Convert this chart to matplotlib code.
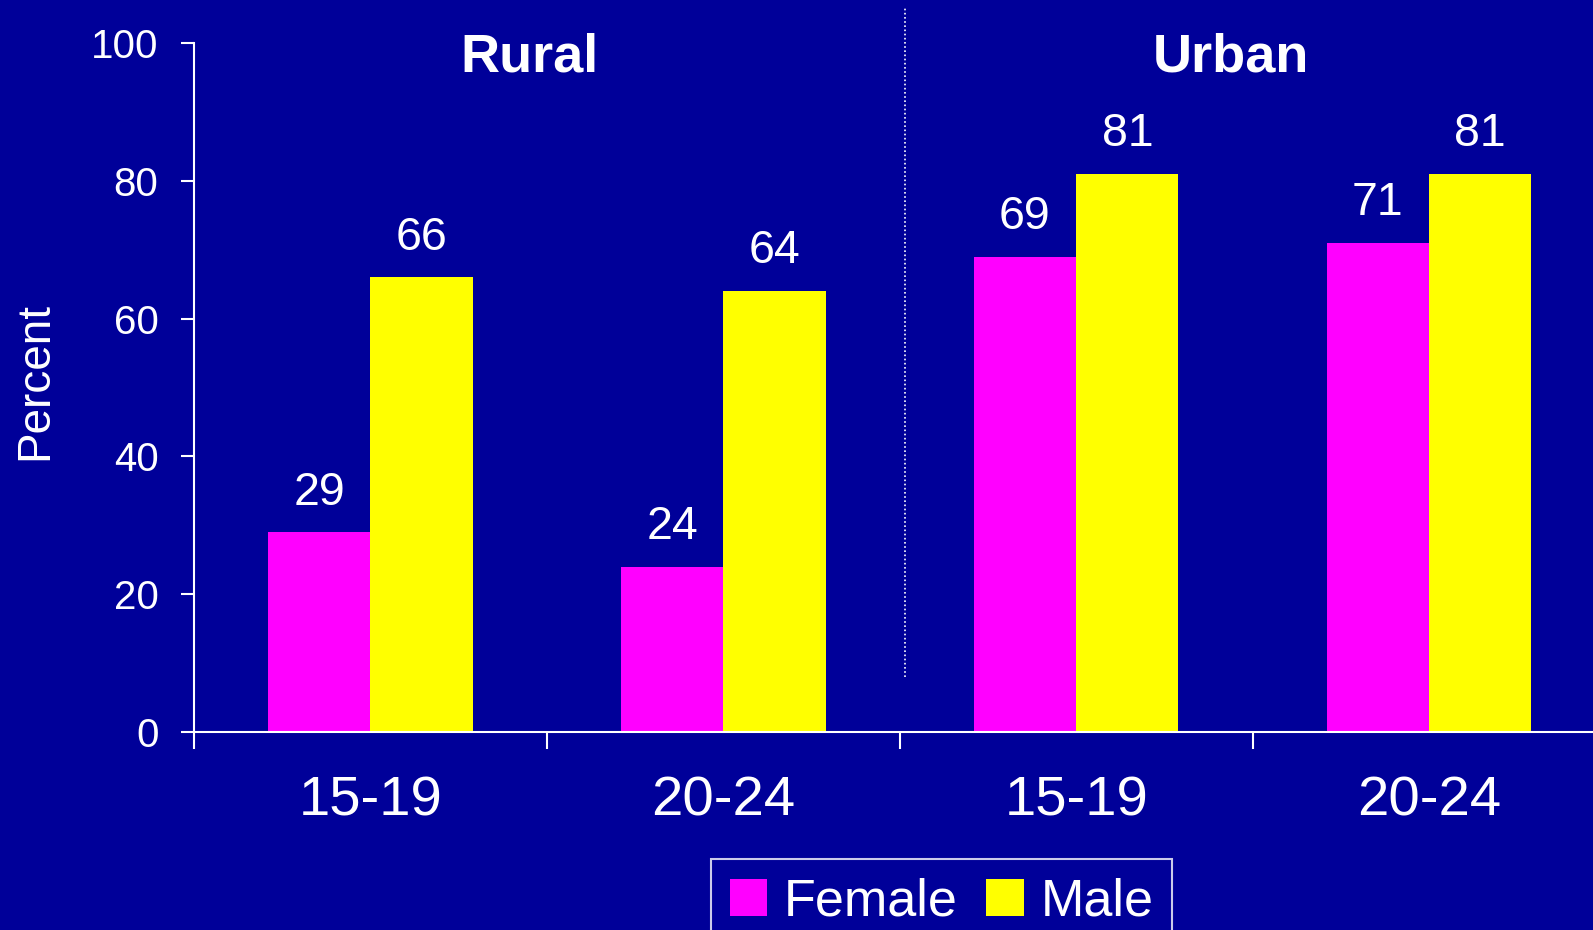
import numpy as np
import matplotlib
matplotlib.use('Agg')
import matplotlib.pyplot as plt

plt.rcParams['font.family'] = ['Liberation Sans', 'DejaVu Sans']

BG  = '#000099'
MAG = '#FF00FF'
YEL = '#FFFF00'

# ── Data ─────────────────────────────────────────────
categories = ['15-19', '20-24', '15-19', '20-24']
groups     = ['Rural', 'Urban']
female     = [29, 24, 69, 71]
male       = [66, 64, 81, 81]

fig = plt.figure(figsize=(15.93, 9.30), dpi=100, facecolor=BG)
ax = fig.add_axes([0.1218, 0.2129, 0.886, 0.741])
ax.set_facecolor(BG)

x = np.arange(len(categories))
w = 0.29
ax.bar(x - w/2, female, w, color=MAG, label='Female', zorder=2)
ax.bar(x + w/2, male,   w, color=YEL, label='Male',   zorder=2)

for xi, v in zip(x, female):
    ax.text(xi - w/2, v + 4, f'{v}', ha='center', va='baseline',
            color='white', fontsize=33.5)
for xi, v in zip(x, male):
    ax.text(xi + w/2, v + 4, f'{v}', ha='center', va='baseline',
            color='white', fontsize=33.5)

# group titles and separator
ax.text(0.45, 95.8, groups[0], ha='center', va='baseline', color='white',
        fontsize=39, fontweight='bold')
ax.text(2.44, 95.8, groups[1], ha='center', va='baseline', color='white',
        fontsize=39, fontweight='bold')
ax.plot([1.514, 1.514], [8, 105], color='white', lw=1.2, ls=(0, (1, 1.5)),
        clip_on=False, zorder=3)

ax.set_xlim(-0.5, 3.5)
ax.set_ylim(0, 100)
ax.set_yticks(range(0, 101, 20))
ax.tick_params(axis='y', colors='white', labelsize=29, length=9.5, width=1.5, pad=16)

ax.set_xticks(np.arange(-0.5, 3.6, 1.0))
ax.set_xticklabels([])
ax.tick_params(axis='x', which='major', colors='white', length=12, width=1.5)
ax.set_xticks(x, minor=True)
ax.set_xticklabels(categories, minor=True)
ax.tick_params(axis='x', which='minor', colors='white', labelsize=40.5, length=0, pad=31)

for s in ['top', 'right']:
    ax.spines[s].set_visible(False)
for s in ['left', 'bottom']:
    ax.spines[s].set_color('white')
    ax.spines[s].set_linewidth(1.5)

fig.text(35/1593, 1 - 381/930, 'Percent', rotation=90, ha='center', va='center',
         color='white', fontsize=33)

leg = fig.legend(loc='upper left', bbox_to_anchor=(711/1593, 1 - 859/930),
                 borderaxespad=0, ncol=2, frameon=True, fontsize=37.5,
                 handlelength=0.72, handleheight=0.72, handletextpad=0.32,
                 columnspacing=0.55, borderpad=0.36, fancybox=False,
                 labelcolor='white')
leg.get_frame().set_facecolor(BG)
leg.get_frame().set_edgecolor('white')
leg.get_frame().set_linewidth(1.5)

fig.savefig('out.png', dpi=100, facecolor=BG)
